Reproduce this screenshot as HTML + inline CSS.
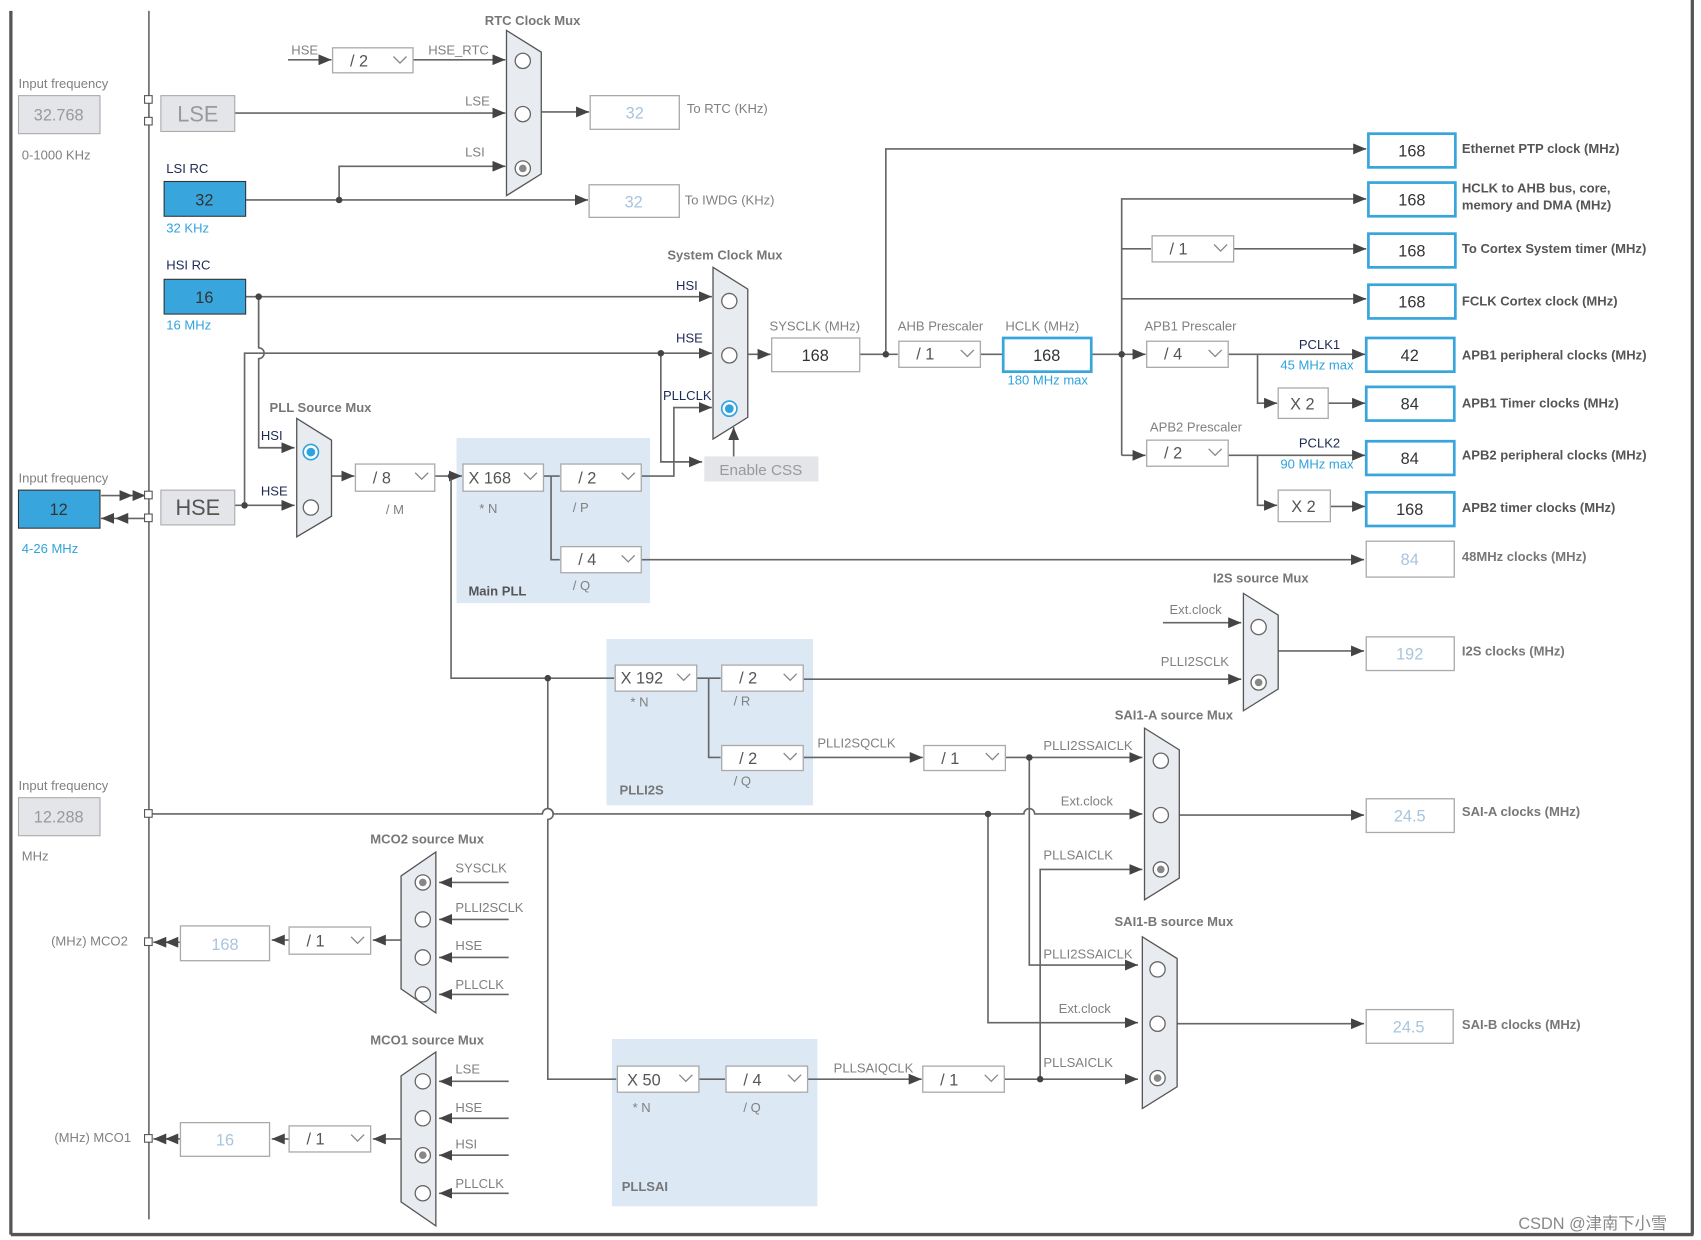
<!DOCTYPE html>
<html><head><meta charset="utf-8"><style>
html,body{margin:0;padding:0;background:#fff;}
svg{display:block;}
text{font-family:"Liberation Sans",sans-serif;}
.l{font-size:12px;fill:#808080;}
.d{font-size:12px;fill:#1c2b55;}
.t{font-size:12px;fill:#777;font-weight:bold;}
.o{font-size:12px;fill:#555;font-weight:bold;}
.b{font-size:12px;fill:#2fa3dc;}
.v{font-size:15px;fill:#333;text-anchor:middle;}
.vl{font-size:15px;fill:#a8c4de;text-anchor:middle;}
.dd{font-size:15px;fill:#555;}
</style></head><body>
<svg width="1701" height="1240" viewBox="0 0 1565 1141" preserveAspectRatio="none" xmlns="http://www.w3.org/2000/svg">
<defs>
<marker id="a" markerWidth="12" markerHeight="10" refX="12" refY="5" orient="auto" markerUnits="userSpaceOnUse"><path d="M0,0 L12,5 L0,10 z" fill="#444"/></marker>
</defs>
<!-- frame -->
<g stroke="#555" fill="none">
<line x1="10" y1="10" x2="10" y2="1136" stroke-width="3"/>
<line x1="10" y1="1136" x2="1558" y2="1136" stroke-width="3"/>
<line x1="1557" y1="0" x2="1557" y2="1136" stroke-width="3"/>
<line x1="137" y1="10" x2="137" y2="1122" stroke-width="1.5" stroke="#666"/>
</g>
<!-- panels -->
<rect x="420" y="403" width="178" height="152" fill="#dce8f4"/>
<rect x="558" y="588" width="190" height="153" fill="#dce8f4"/>
<rect x="563" y="956" width="189" height="154" fill="#dce8f4"/>

<!-- connectors -->
<g stroke="#666" stroke-width="1.5" fill="none">
<line x1="265" y1="55" x2="305" y2="55" marker-end="url(#a)"/>
<line x1="380" y1="55" x2="465" y2="55" marker-end="url(#a)"/>
<line x1="216" y1="104" x2="465" y2="104" marker-end="url(#a)"/>
<line x1="498" y1="103" x2="542" y2="103" marker-end="url(#a)"/>
<line x1="226" y1="184" x2="541" y2="184" marker-end="url(#a)"/>
<polyline points="312,184 312,153 465,153" marker-end="url(#a)"/>
<line x1="226" y1="273" x2="655" y2="273" marker-end="url(#a)"/>
<polyline points="238,273 238,320 M238,320" />
<path d="M238,273 V320 a5,5 0 0 1 0,10 V412 H271" marker-end="url(#a)"/>
<polyline points="225,465 225,325 608,325 655,325" marker-end="url(#a)"/>
<line x1="216" y1="465" x2="271" y2="465" marker-end="url(#a)"/>
<line x1="305" y1="438" x2="326" y2="438" marker-end="url(#a)"/>
<line x1="400" y1="438" x2="425" y2="438" marker-end="url(#a)"/>
<line x1="500" y1="438" x2="515" y2="438"/>
<polyline points="590,438 620,438 620,375 655,375" marker-end="url(#a)"/>
<path d="M608,325 V420 a4,4 0 0 1 0,0 V425 H646" marker-end="url(#a)"/>
<line x1="675" y1="420" x2="675" y2="393" marker-end="url(#a)"/>
<polyline points="507,438 507,515 515,515"/>
<line x1="590" y1="515" x2="1255" y2="515" marker-end="url(#a)"/>
<polyline points="415,438 415,624 565,624"/>
<line x1="641" y1="624" x2="663" y2="624"/>
<polyline points="652,624 652,697 663,697"/>
<line x1="739" y1="625" x2="1142" y2="625" marker-end="url(#a)"/>
<line x1="739" y1="697" x2="849" y2="697" marker-end="url(#a)"/>
<line x1="925" y1="697" x2="1051" y2="697" marker-end="url(#a)"/>
<polyline points="947,697 947,888 1047,888" marker-end="url(#a)"/>
<path d="M504,624 V744 a5,5 0 0 1 0,10 V993 H567"/>
<line x1="643" y1="993" x2="667" y2="993"/>
<line x1="743" y1="993" x2="848" y2="993" marker-end="url(#a)"/>
<line x1="924" y1="993" x2="1047" y2="993" marker-end="url(#a)"/>
<polyline points="957,993 957,800 1051,800" marker-end="url(#a)"/>
<path d="M137,749 H499 a5,5 0 0 1 10,0 H942 a5,5 0 0 1 10,0 H1051" marker-end="url(#a)"/>
<polyline points="909,749 909,941 1047,941" marker-end="url(#a)"/>
<line x1="1085" y1="750" x2="1255" y2="750" marker-end="url(#a)"/>
<line x1="1083" y1="942" x2="1255" y2="942" marker-end="url(#a)"/>
<line x1="1070" y1="573" x2="1142" y2="573" marker-end="url(#a)"/>
<line x1="1176" y1="599" x2="1255" y2="599" marker-end="url(#a)"/>
<line x1="688" y1="326" x2="709" y2="326" marker-end="url(#a)"/>
<line x1="791" y1="326" x2="826" y2="326"/>
<line x1="902" y1="326" x2="922" y2="326"/>
<polyline points="815,326 815,137 1257,137" marker-end="url(#a)"/>
<line x1="1004" y1="326" x2="1054" y2="326" marker-end="url(#a)"/>
<polyline points="1032,419 1032,183 1257,183" marker-end="url(#a)"/>
<line x1="1032" y1="229" x2="1059" y2="229"/>
<line x1="1135" y1="229" x2="1257" y2="229" marker-end="url(#a)"/>
<line x1="1032" y1="275" x2="1257" y2="275" marker-end="url(#a)"/>
<line x1="1032" y1="419" x2="1054" y2="419" marker-end="url(#a)"/>
<line x1="1130" y1="326" x2="1256" y2="326" marker-end="url(#a)"/>
<polyline points="1157,326 1157,371 1175,371" marker-end="url(#a)"/>
<line x1="1222" y1="371" x2="1256" y2="371" marker-end="url(#a)"/>
<line x1="1130" y1="419" x2="1256" y2="419" marker-end="url(#a)"/>
<polyline points="1157,419 1157,465 1175,465" marker-end="url(#a)"/>
<line x1="1224" y1="466" x2="1256" y2="466" marker-end="url(#a)"/>
<!-- MCO -->
<line x1="468" y1="812" x2="404" y2="812" marker-end="url(#a)"/>
<line x1="468" y1="846" x2="404" y2="846" marker-end="url(#a)"/>
<line x1="468" y1="881" x2="404" y2="881" marker-end="url(#a)"/>
<line x1="468" y1="915" x2="404" y2="915" marker-end="url(#a)"/>
<line x1="369" y1="865" x2="343" y2="865" marker-end="url(#a)"/>
<line x1="266" y1="865" x2="250" y2="865" marker-end="url(#a)"/>
<line x1="166" y1="867" x2="152" y2="867" marker-end="url(#a)"/>
<line x1="152" y1="867" x2="141" y2="867" marker-end="url(#a)"/>
<line x1="468" y1="995" x2="404" y2="995" marker-end="url(#a)"/>
<line x1="468" y1="1029" x2="404" y2="1029" marker-end="url(#a)"/>
<line x1="468" y1="1063" x2="404" y2="1063" marker-end="url(#a)"/>
<line x1="468" y1="1098" x2="404" y2="1098" marker-end="url(#a)"/>
<line x1="369" y1="1048" x2="343" y2="1048" marker-end="url(#a)"/>
<line x1="266" y1="1048" x2="250" y2="1048" marker-end="url(#a)"/>
<line x1="166" y1="1048" x2="152" y2="1048" marker-end="url(#a)"/>
<line x1="152" y1="1048" x2="141" y2="1048" marker-end="url(#a)"/>
<!-- HSE in/out arrows -->
<line x1="93" y1="456" x2="122" y2="456" marker-end="url(#a)"/>
<line x1="122" y1="456" x2="134" y2="456" marker-end="url(#a)"/>
<line x1="134" y1="477" x2="106" y2="477" marker-end="url(#a)"/>
<line x1="106" y1="477" x2="93" y2="477" marker-end="url(#a)"/>
</g>
<!-- dots -->
<g fill="#444">
<circle cx="312" cy="184" r="3"/><circle cx="238" cy="273" r="3"/><circle cx="608" cy="325" r="3"/>
<circle cx="225" cy="465" r="3"/><circle cx="415" cy="438" r="3"/><circle cx="504" cy="624" r="3"/>
<circle cx="947" cy="697" r="3"/><circle cx="957" cy="993" r="3"/><circle cx="909" cy="749" r="3"/>
<circle cx="815" cy="326" r="3"/><circle cx="1032" cy="326" r="3"/>
</g>
<!-- small squares -->
<g fill="#fff" stroke="#555">
<rect x="133" y="88" width="7" height="7"/><rect x="133" y="108" width="7" height="7"/>
<rect x="133" y="452" width="7" height="7"/><rect x="133" y="473" width="7" height="7"/>
<rect x="133" y="745" width="7" height="7"/><rect x="133" y="863" width="7" height="7"/><rect x="133" y="1044" width="7" height="7"/>
</g>

<!-- muxes -->
<g fill="#e8ecf0" stroke="#555" stroke-width="1.2">
<polygon points="466,28 498,48 498,160 466,180"/>
<polygon points="656,246 688,266 688,384 656,404"/>
<polygon points="273,385 305,405 305,475 273,494"/>
<polygon points="1144,546 1176,566 1176,634 1144,654"/>
<polygon points="1053,670 1085,690 1085,808 1053,828"/>
<polygon points="1051,862 1083,882 1083,1000 1051,1020"/>
<polygon points="369,806 401,784 401,932 369,910"/>
<polygon points="369,990 401,968 401,1128 369,1106"/>
</g>
<g fill="#fff" stroke="#666" stroke-width="1.2">
<circle cx="481" cy="56" r="7"/><circle cx="481" cy="105" r="7"/><circle cx="481" cy="155" r="7"/>
<circle cx="671" cy="277" r="7"/><circle cx="671" cy="327" r="7"/>
<circle cx="286" cy="467" r="7"/>
<circle cx="1158" cy="577" r="7"/><circle cx="1158" cy="628" r="7"/>
<circle cx="1068" cy="700" r="7"/><circle cx="1068" cy="750" r="7"/><circle cx="1068" cy="800" r="7"/>
<circle cx="1065" cy="892" r="7"/><circle cx="1065" cy="942" r="7"/><circle cx="1065" cy="992" r="7"/>
<circle cx="389" cy="812" r="7"/><circle cx="389" cy="846" r="7"/><circle cx="389" cy="881" r="7"/><circle cx="389" cy="915" r="7"/>
<circle cx="389" cy="995" r="7"/><circle cx="389" cy="1029" r="7"/><circle cx="389" cy="1063" r="7"/><circle cx="389" cy="1098" r="7"/>
</g>
<g fill="#888"><circle cx="481" cy="155" r="3.5"/><circle cx="1158" cy="628" r="3.5"/><circle cx="1068" cy="800" r="3.5"/><circle cx="1065" cy="992" r="3.5"/><circle cx="389" cy="812" r="3.5"/><circle cx="389" cy="1063" r="3.5"/></g>
<g><circle cx="671" cy="376" r="7" fill="#fff" stroke="#2fa3dc" stroke-width="1.5"/><circle cx="671" cy="376" r="4" fill="#2fa3dc"/>
<circle cx="286" cy="416" r="7" fill="#fff" stroke="#2fa3dc" stroke-width="1.5"/><circle cx="286" cy="416" r="4" fill="#2fa3dc"/></g>

<!-- boxes: grey input -->
<g fill="#e3e5e8" stroke="#aaa">
<rect x="17" y="88" width="75" height="35"/><rect x="17" y="734" width="75" height="35"/>
<rect x="148" y="88" width="68" height="33"/><rect x="148" y="451" width="68" height="32"/>
</g>
<rect x="648" y="420" width="105" height="23" fill="#e3e5e8"/>
<!-- blue -->
<g fill="#38a6dc" stroke="#333">
<rect x="151" y="167" width="75" height="32"/><rect x="151" y="257" width="75" height="32"/><rect x="17" y="451" width="75" height="35"/>
</g>
<!-- white value boxes -->
<g fill="#fff" stroke="#aaa" stroke-width="1.2">
<rect x="543" y="88" width="82" height="31"/><rect x="542" y="170" width="83" height="30"/>
<rect x="710" y="311" width="81" height="31"/>
<rect x="1257" y="498" width="81" height="33"/><rect x="1257" y="586" width="81" height="31"/>
<rect x="1257" y="735" width="81" height="31"/><rect x="1257" y="929" width="80" height="31"/>
<rect x="166" y="852" width="82" height="32"/><rect x="166" y="1033" width="82" height="31"/>
<rect x="1176" y="357" width="46" height="28"/><rect x="1176" y="451" width="48" height="29"/>
</g>
<g fill="#fff" stroke="#38a6dc" stroke-width="2.5">
<rect x="923" y="311" width="81" height="31"/>
<rect x="1259" y="123" width="80" height="31"/><rect x="1259" y="168" width="80" height="31"/>
<rect x="1259" y="215" width="80" height="31"/><rect x="1259" y="262" width="80" height="31"/>
<rect x="1257" y="311" width="81" height="31"/><rect x="1257" y="356" width="81" height="31"/>
<rect x="1257" y="406" width="81" height="31"/><rect x="1257" y="453" width="81" height="31"/>
</g>
<!-- dropdowns -->
<g fill="#fff" stroke="#aaa" stroke-width="1.2">
<rect x="306" y="44" width="74" height="23"/>
<rect x="327" y="427" width="73" height="25"/><rect x="426" y="427" width="74" height="25"/><rect x="516" y="427" width="74" height="25"/>
<rect x="516" y="503" width="74" height="24"/>
<rect x="566" y="612" width="75" height="24"/><rect x="664" y="612" width="75" height="24"/><rect x="664" y="686" width="75" height="23"/>
<rect x="850" y="686" width="75" height="23"/>
<rect x="568" y="981" width="75" height="24"/><rect x="668" y="981" width="75" height="24"/><rect x="849" y="981" width="75" height="24"/>
<rect x="827" y="314" width="75" height="24"/><rect x="1060" y="217" width="75" height="24"/>
<rect x="1055" y="314" width="75" height="24"/><rect x="1055" y="405" width="75" height="24"/>
<rect x="266" y="853" width="75" height="25"/><rect x="266" y="1036" width="75" height="24"/>
</g>
<g fill="none" stroke="#888" stroke-width="1.2">
<polyline points="362,52 368,58 374,52"/>
<polyline points="382,435 388,441 394,435"/><polyline points="482,435 488,441 494,435"/><polyline points="572,435 578,441 584,435"/>
<polyline points="572,511 578,517 584,511"/>
<polyline points="623,620 629,626 635,620"/><polyline points="721,620 727,626 733,620"/><polyline points="721,693 727,699 733,693"/>
<polyline points="907,693 913,699 919,693"/>
<polyline points="625,989 631,995 637,989"/><polyline points="725,989 731,995 737,989"/><polyline points="906,989 912,995 918,989"/>
<polyline points="884,322 890,328 896,322"/><polyline points="1117,225 1123,231 1129,225"/>
<polyline points="1112,322 1118,328 1124,322"/><polyline points="1112,413 1118,419 1124,413"/>
<polyline points="323,862 329,868 335,862"/><polyline points="323,1044 329,1050 335,1044"/>
</g>
<g class="dd">
<text x="322" y="61">/ 2</text>
<text x="343" y="445">/ 8</text><text x="431" y="445">X 168</text><text x="532" y="445">/ 2</text>
<text x="532" y="520">/ 4</text>
<text x="571" y="629">X 192</text><text x="680" y="629">/ 2</text><text x="680" y="703">/ 2</text>
<text x="866" y="703">/ 1</text>
<text x="577" y="999">X 50</text><text x="684" y="999">/ 4</text><text x="865" y="999">/ 1</text>
<text x="843" y="331">/ 1</text><text x="1076" y="234">/ 1</text>
<text x="1071" y="331">/ 4</text><text x="1071" y="422">/ 2</text>
<text x="282" y="871">/ 1</text><text x="282" y="1053">/ 1</text>
<text x="1187" y="377">X 2</text><text x="1188" y="471">X 2</text>
</g>
<!-- values -->
<text class="vl" x="54" y="111" style="fill:#999">32.768</text>
<text class="vl" x="54" y="757" style="fill:#999">12.288</text>
<text x="182" y="112" style="font-size:20px;fill:#999;text-anchor:middle">LSE</text>
<text x="182" y="474" style="font-size:20px;fill:#555;text-anchor:middle">HSE</text>
<text class="v" x="188" y="189">32</text><text class="v" x="188" y="279">16</text><text class="v" x="54" y="474">12</text>
<text class="vl" x="584" y="109">32</text><text class="vl" x="583" y="191">32</text>
<text class="v" x="750" y="332">168</text><text class="v" x="963" y="332">168</text>
<text class="v" x="1299" y="144">168</text><text class="v" x="1299" y="189">168</text><text class="v" x="1299" y="236">168</text><text class="v" x="1299" y="283">168</text>
<text class="v" x="1297" y="332">42</text><text class="v" x="1297" y="377">84</text><text class="v" x="1297" y="427">84</text><text class="v" x="1297" y="474">168</text>
<text class="vl" x="1297" y="520">84</text><text class="vl" x="1297" y="607">192</text>
<text class="vl" x="1297" y="756">24.5</text><text class="vl" x="1296" y="950">24.5</text>
<text class="vl" x="207" y="874">168</text><text class="vl" x="207" y="1054">16</text>
<text x="700" y="437" style="font-size:14px;fill:#999;text-anchor:middle">Enable CSS</text>
<!-- labels -->
<g class="l">
<text x="17" y="81">Input frequency</text><text x="20" y="147">0-1000 KHz</text>
<text x="17" y="444">Input frequency</text><text x="17" y="727">Input frequency</text><text x="20" y="792">MHz</text>
<text x="268" y="50">HSE</text><text x="394" y="50">HSE_RTC</text><text x="428" y="97">LSE</text><text x="428" y="144">LSI</text>
<text x="632" y="104">To RTC (KHz)</text><text x="630" y="188">To IWDG (KHz)</text>
<text x="355" y="473">/ M</text><text x="441" y="472">* N</text><text x="527" y="471">/ P</text><text x="527" y="543">/ Q</text>
<text x="580" y="650">* N</text><text x="675" y="649">/ R</text><text x="675" y="723">/ Q</text>
<text x="752" y="688">PLLI2SQCLK</text><text x="1068" y="613">PLLI2SCLK</text><text x="1076" y="565">Ext.clock</text>
<text x="960" y="690">PLLI2SSAICLK</text><text x="976" y="741">Ext.clock</text><text x="960" y="791">PLLSAICLK</text>
<text x="960" y="882">PLLI2SSAICLK</text><text x="974" y="932">Ext.clock</text><text x="960" y="982">PLLSAICLK</text>
<text x="582" y="1023">* N</text><text x="684" y="1023">/ Q</text><text x="767" y="987">PLLSAIQCLK</text>
<text x="708" y="304">SYSCLK (MHz)</text><text x="826" y="304">AHB Prescaler</text><text x="925" y="304">HCLK (MHz)</text>
<text x="1053" y="304">APB1 Prescaler</text><text x="1058" y="397">APB2 Prescaler</text>
<text x="419" y="803">SYSCLK</text><text x="419" y="839">PLLI2SCLK</text><text x="419" y="874">HSE</text><text x="419" y="910">PLLCLK</text>
<text x="419" y="988">LSE</text><text x="419" y="1023">HSE</text><text x="419" y="1057">HSI</text><text x="419" y="1093">PLLCLK</text>
<text x="47" y="870">(MHz) MCO2</text><text x="50" y="1051">(MHz) MCO1</text>
</g>
<g class="d">
<text x="153" y="159">LSI RC</text><text x="153" y="248">HSI RC</text>
<text x="622" y="267">HSI</text><text x="622" y="315">HSE</text><text x="610" y="368">PLLCLK</text>
<text x="240" y="405">HSI</text><text x="240" y="456">HSE</text>
<text x="1195" y="321">PCLK1</text><text x="1195" y="412">PCLK2</text>
</g>
<g class="t">
<text x="490" y="23" text-anchor="middle">RTC Clock Mux</text><text x="667" y="239" text-anchor="middle">System Clock Mux</text>
<text x="248" y="379">PLL  Source Mux</text>
<text x="431" y="548" style="fill:#555">Main PLL</text><text x="570" y="731">PLLI2S</text><text x="572" y="1096">PLLSAI</text>
<text x="1160" y="536" text-anchor="middle">I2S source Mux</text>
<text x="1080" y="662" text-anchor="middle">SAI1-A source Mux</text><text x="1080" y="852" text-anchor="middle">SAI1-B source Mux</text>
<text x="393" y="776" text-anchor="middle">MCO2 source Mux</text><text x="393" y="961" text-anchor="middle">MCO1 source Mux</text>
<text x="1345" y="516">48MHz clocks (MHz)</text><text x="1345" y="603">I2S clocks (MHz)</text>
<text x="1345" y="751">SAI-A clocks (MHz)</text><text x="1345" y="947">SAI-B clocks (MHz)</text>
</g>
<g class="o">
<text x="1345" y="141">Ethernet PTP clock (MHz)</text><text x="1345" y="177">HCLK to AHB bus, core,</text>
<text x="1345" y="193" clip-path="inset(0)">memory and DMA (MHz)</text>
<text x="1345" y="233">To Cortex System timer (MHz)</text><text x="1345" y="281">FCLK Cortex clock (MHz)</text>
<text x="1345" y="331">APB1 peripheral clocks (MHz)</text><text x="1345" y="375">APB1 Timer clocks (MHz)</text>
<text x="1345" y="423">APB2 peripheral clocks (MHz)</text><text x="1345" y="471">APB2 timer clocks (MHz)</text>
</g>
<g class="b">
<text x="153" y="214">32 KHz</text><text x="153" y="303">16 MHz</text><text x="20" y="509">4-26 MHz</text>
<text x="927" y="354">180 MHz max</text><text x="1178" y="340">45 MHz max</text><text x="1178" y="431">90 MHz max</text>
</g>
<text x="1397" y="1131" style="font-size:15px;fill:#888;font-family:'Liberation Sans','Noto Sans CJK SC',sans-serif">CSDN @津南下小雪</text>
</svg>
</body></html>
